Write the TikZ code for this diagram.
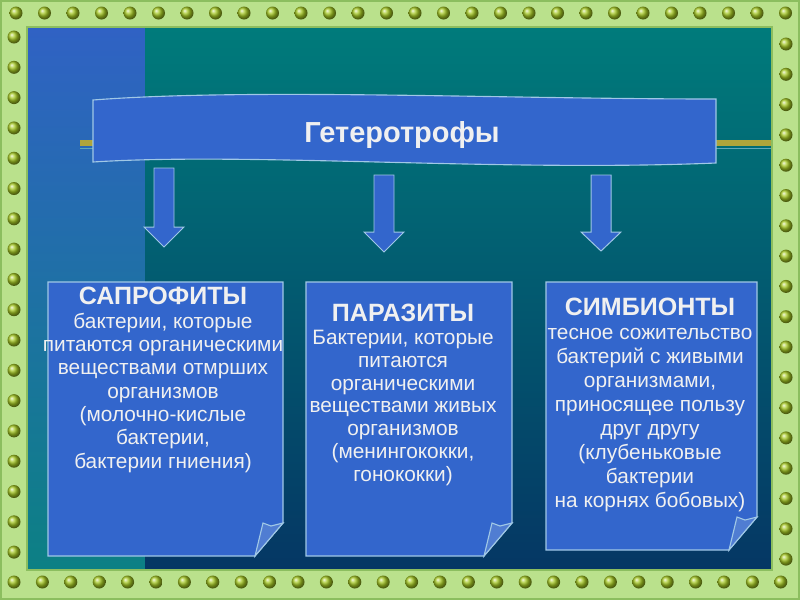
\documentclass[tikz,border=0pt]{standalone}
\usepackage{fontspec}
\setmainfont{Liberation Sans}
\usepackage{xcolor}
\usepackage{tikz}
\usetikzlibrary{arrows.meta, positioning, calc}
\definecolor{framegreen}{RGB}{186,225,140}
\definecolor{frameedge}{RGB}{140,190,95}
\definecolor{studgreen}{RGB}{165,200,35}
\definecolor{stripblue}{RGB}{48,98,196}
\definecolor{stripmid}{RGB}{35,108,172}
\definecolor{stripteal}{RGB}{12,128,132}
\definecolor{seateal}{RGB}{0,123,123}
\definecolor{seanavy}{RGB}{5,55,100}
\definecolor{cardblue}{RGB}{51,102,204}
\definecolor{flapblue}{RGB}{80,125,210}
\definecolor{edgeblue}{RGB}{160,200,230}
\definecolor{railgold}{RGB}{175,165,60}
\definecolor{paletext}{RGB}{240,240,240}

\newcommand{\cardtitle}[1]{{\bfseries\fontsize{17.8}{16.6}\selectfont #1}}
% note card with a curled lower right corner: left, top, right, bottom
\newcommand{\curlnote}[4]{%
  \filldraw[cardblue, draw=edgeblue, line width=0.8pt] (#1,#2) -- (#3,#2) -- (#3,#4-33) -- (#3-28,#4) -- (#1,#4) -- cycle;
  \filldraw[flapblue, draw=edgeblue, line width=0.8pt] (#3-28,#4) -- (#3-20,#4-33) -- (#3-12,#4-30) -- (#3,#4-33) -- cycle;
}

\begin{document}
\begin{tikzpicture}[x=0.025cm, y=-0.025cm,
    cardtext/.style={anchor=north, align=center, inner sep=0pt, text=paletext},
    every node/.style={font=\fontsize{14.8}{16.6}\selectfont}]
  \useasboundingbox (0,0) rectangle (800,600);

  % frame and background
  \fill[framegreen] (0,0) rectangle (800,600);
  \draw[frameedge, line width=1.5pt] (1,1) rectangle (799,599);
  \shade[top color=stripblue, middle color=stripmid, bottom color=stripteal] (28,28) rectangle (145,569);
  \shade[top color=seateal, bottom color=seanavy] (145,28) rectangle (771,569);
  \draw[frameedge, line width=1.4pt] (27,27) rectangle (772,570);
  \foreach \i in {0,...,27} {
    \shade[ball color=studgreen] (16+\i*28.5,13) circle (6.5);
    \shade[ball color=studgreen] (14+\i*28.4,582) circle (6.5);
  }
  \foreach \i in {0,...,17} {
    \shade[ball color=studgreen] (14,37+\i*30.3) circle (6.5);
    \shade[ball color=studgreen] (786,44+\i*30.3) circle (6.5);
  }

  % banner
  \fill[railgold] (80,140) rectangle (771,146);
  \draw[edgeblue!60!seateal, line width=0.6pt] (80,148) -- (771,148);
  \filldraw[cardblue, draw=edgeblue, line width=0.8pt] (93,100) .. controls (250,88) and (500,99) .. (716,99)
    -- (716,163) .. controls (500,172) and (250,152) .. (93,162) -- cycle;
  \node[font=\bfseries\fontsize{20.6}{24}\selectfont, text=paletext, anchor=base] (hetero) at (402,142) {Гетеротрофы};

  % arrows
  \foreach \cx/\ytop/\ybase/\ytip in {164/168/227/247, 384/175/232/252, 601/175/232/251}
    \filldraw[cardblue, draw=edgeblue, line width=0.7pt] (\cx-10,\ytop) -- (\cx+10,\ytop) -- (\cx+10,\ybase)
      -- (\cx+20,\ybase) -- (\cx,\ytip) -- (\cx-20,\ybase) -- (\cx-10,\ybase) -- cycle;

  % cards
  \curlnote{48}{282}{283}{556}
  \curlnote{306}{282}{512}{556}
  \curlnote{546}{282}{757}{550}

  \node[cardtext] (sapro) at (163,287) {\cardtitle{САПРОФИТЫ}\\бактерии, которые\\питаются органическими\\веществами отмрших\\организмов\\(молочно-кислые\\бактерии,\\бактерии гниения)};
  \node[cardtext, font=\fontsize{14.8}{16.2}\selectfont] (para) at (403,304) {\cardtitle{ПАРАЗИТЫ}\\Бактерии, которые\\питаются\\органическими\\веществами живых\\организмов\\(менингококки,\\гонококки)};
  \node[cardtext, font=\fontsize{14.8}{17}\selectfont] (symb) at (650,298) {\cardtitle{СИМБИОНТЫ}\\тесное сожительство\\бактерий с живыми\\организмами,\\приносящее пользу\\друг другу\\(клубеньковые\\бактерии\\на корнях бобовых)};
\end{tikzpicture}
\end{document}
